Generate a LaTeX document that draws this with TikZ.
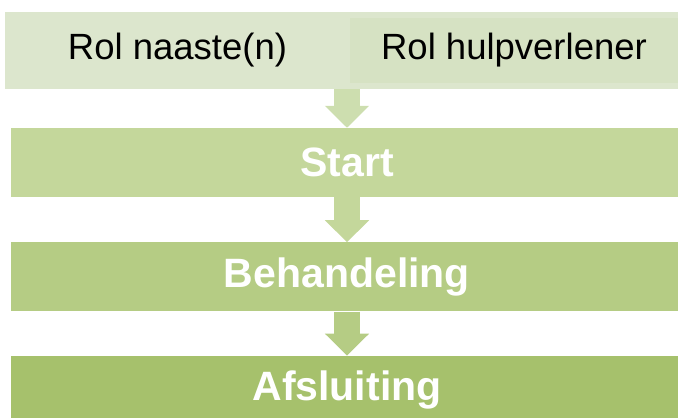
\documentclass[tikz,border=0pt]{standalone}
\usepackage{fontspec}
\setmainfont{Liberation Sans}
\usetikzlibrary{arrows.meta, positioning}
\definecolor{rolgroen}{RGB}{220,230,205}
\definecolor{hulpgroen}{RGB}{214,226,195}
\definecolor{startgroen}{RGB}{196,215,155}
\definecolor{behgroen}{RGB}{181,204,132}
\definecolor{afsgroen}{RGB}{166,193,108}
\definecolor{pijlgroen}{RGB}{205,222,175}

\begin{document}
\begin{tikzpicture}[x=1pt, y=-1pt,
        rol/.style={rectangle, inner sep=0pt, minimum height=77pt,
                    font=\fontsize{36.5}{40}\selectfont, text=black},
        fase/.style={rectangle, inner sep=0pt, minimum height=69pt, minimum width=672pt,
                     font=\fontsize{41}{46}\selectfont\bfseries, text=white},
        pijl/.style={line width=26pt, -{Triangle[width=43pt, length=22pt]}},
    ]
        \useasboundingbox (0,0) rectangle (678,418);

        % Rollen
        \node[rol, fill=rolgroen, minimum width=345pt] (naaste) at (177.5,50.5)
            {Rol naaste(n)};
        \fill[rolgroen] (naaste.north east) rectangle (678,89);
        \node[rol, fill=hulpgroen, minimum width=328pt, minimum height=65pt] (hulp) at (514,50.5)
            {Rol hulpverlener};

        % Fasen
        \node[fase, fill=startgroen] (start) at (347,162.5) {Start};
        \node[fase, fill=behgroen, below=45pt of start] (behandeling) {Behandeling};
        \node[fase, fill=afsgroen, below=44pt of behandeling] (afsluiting) {Afsluiting};

        % Pijlen
        \draw[pijl, pijlgroen] (start.north |- naaste.south) -- (start.north);
        \draw[pijl, startgroen] (start.south) -- (behandeling.north);
        \draw[pijl, behgroen] (behandeling.south) -- (afsluiting.north);
    \end{tikzpicture}
\end{document}
